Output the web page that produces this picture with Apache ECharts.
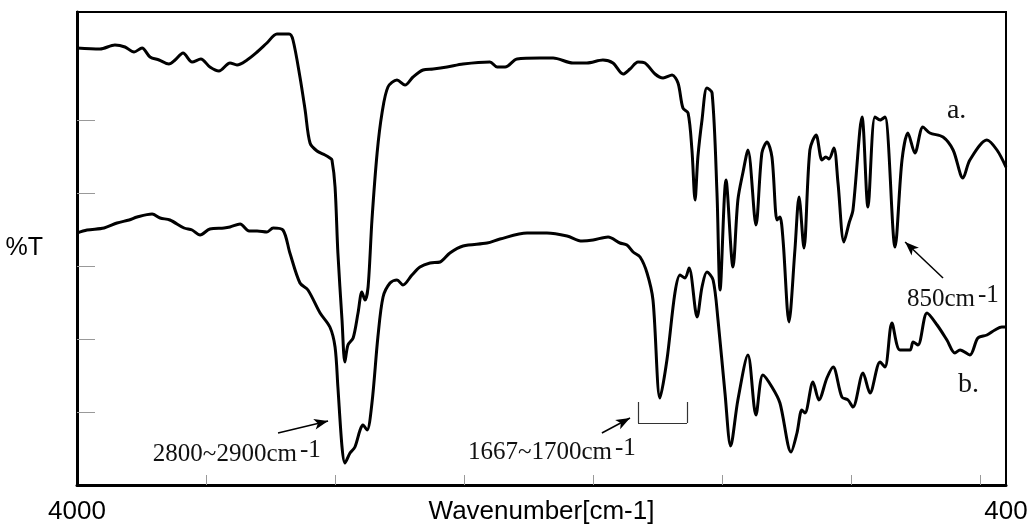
<!DOCTYPE html>
<html><head><meta charset="utf-8">
<script src="https://cdn.jsdelivr.net/npm/echarts@6/dist/echarts.min.js"></script>
<style>html,body{margin:0;padding:0;background:#fff}#c{width:1036px;height:524px}</style>
</head><body><div id="c"></div>
<script>
// Spectrum a (upper trace): wavenumber [cm-1] and %T (arbitrary offset scale)
const wnA = [4000,3911,3853,3814,3779,3748,3717,3682,3644,3620,
  3589,3554,3520,3485,3450,3407,3380,3341,3302,3264,
  3225,3178,3163,3136,3116,3097,3070,3039,3020,3012,
  3000,2989,2973,2962,2950,2930,2911,2896,2884,2872,
  2857,2837,2818,2795,2760,2729,2698,2659,2620,2566,
  2504,2400,2372,2341,2295,2206,2155,2078,2024,1962,
  1923,1884,1857,1826,1799,1760,1729,1694,1671,1652,
  1632,1617,1605,1594,1578,1559,1539,1520,1508,1485,
  1458,1439,1419,1400,1369,1346,1326,1307,1287,1276,
  1264,1241,1218,1202,1183,1160,1136,1113,1098,1086,
  1067,1051,1028,1008,993,958,935,908,888,869,
  830,803,780,753,722,695,644,605,567,540,
  474,435,400];
const tA = [87.4,87.2,88,87.6,86.6,87.4,85.6,85,84.2,85,
  86.4,84.6,85.2,83.6,82.8,84.4,84,85,86.6,88.4,
  90.2,90.2,89,81.6,75,68.4,66.8,66,65.4,65,
  59.6,46.4,33,24.6,28,29.4,34.4,38.6,37,39.6,
  53,66.4,74.4,79.6,81,80,81.6,83,83.2,83.6,
  84.2,84.6,83.6,83.6,85.2,85.4,85.4,84.4,84.4,85,
  84.4,82.2,83.2,84.6,84.4,82.2,81.4,82,80.4,75.4,
  74.4,67,57,65.6,73,79.4,78.4,58.4,39,61,
  43.6,57,62.6,67,52,66.4,68.6,65.6,53,53.6,
  49,32.6,47,57.6,47.4,67,70,65,65.6,65.2,
  67.4,60.4,48.6,52.4,55,73.6,55.6,73.6,73,73.6,
  47.6,65,70.4,66.4,71.6,70.4,69.6,67,61.4,65,
  69,67,63.6];
// Spectrum b (lower trace)
const wnB = [4000,3961,3895,3845,3798,3767,3709,3678,3640,3585,
  3554,3523,3485,3430,3407,3368,3333,3302,3264,3240,
  3202,3175,3136,3105,3058,3020,3000,2989,2973,2962,
  2942,2923,2903,2892,2876,2857,2834,2814,2787,2760,
  2737,2702,2671,2632,2593,2555,2504,2411,2361,2256,
  2179,2101,2043,2000,1942,1896,1869,1845,1818,1791,
  1768,1741,1714,1683,1663,1644,1628,1597,1578,1559,
  1535,1516,1489,1467,1439,1400,1369,1342,1307,1276,
  1233,1210,1191,1179,1148,1125,1094,1070,1036,1012,
  993,954,927,888,869,842,811,772,760,741,
  706,667,629,598,578,540,509,474,443,416,400];
const tB = [50.4,51,51.4,52.4,53,53.6,54.2,53.4,53,51.4,
  51,50,51.2,51.4,51.6,52.2,50.8,50.8,50.6,51.4,
  51,46.4,40.4,39,34.4,31.6,27.6,19.6,7.6,4.4,
  6.4,7.6,11,12,11,16.4,29.6,37.6,40.4,41,
  40,42,43.6,44.4,44.6,46.4,47.8,48.4,49.2,50.4,
  50.4,49.8,48.8,49,49.6,48.4,48,46.6,45.6,42.4,
  37,17.4,25,38.4,42,41.4,43.4,33.6,39.6,42.6,
  41,33,18.4,7.8,17,26,14,22,19.6,16.4,
  6.6,10.4,15,14.4,20.6,17,21.4,23.6,17.6,17,
  15.6,22.4,18.4,24.6,23.6,32.4,27,27,28.6,28,
  34.4,32,29,26.4,27,26,29.4,30,31,31.6,31.6];
const xTickValues = [3500,3000,2500,2000,1500,1000,500];
const xLabelValues = [4000,400];
const yTickValues = [14.6,29.2,43.8,58.4,73];

// annotation anchors (data coordinates)
const notes = [
  {main:'2800~2900cm', wn:3706, t:6.2, size:25},
  {main:'1667~1700cm', wn:2485, t:6.5, size:25},
  {main:'850cm', wn:784, t:37.2, size:25},
  {plain:'a.', wn:629, t:74.8, size:28},
  {plain:'b.', wn:586, t:20.0, size:28}
];
const arrows = [
  [[3221,10.4],[3027,12.8]],
  [[1966,10.4],[1857,13.4]],
  [[644,41.4],[791,48.6]]
];
const bracket = [
  [[1826,16.6],[1826,12.4]],
  [[1826,12.4],[1636,12.4]],
  [[1636,12.4],[1636,16.6]]
];

const dataA = wnA.map((w,i)=>[w,tA[i]]);
const dataB = wnB.map((w,i)=>[w,tB[i]]);
const serif = 'Liberation Serif';
const sans = 'Liberation Sans';

const chart = echarts.init(document.getElementById('c'));
const option = {
  animation:false,
  backgroundColor:'#fff',
  grid:{left:77,right:30,top:12,bottom:39,show:true,borderColor:'#000',borderWidth:2,
        containLabel:false,outerBoundsMode:'none'},
  xAxis:{type:'value',min:400,max:4000,inverse:true,
    axisLine:{show:true,lineStyle:{color:'#000',width:3}},
    axisTick:{show:true,inside:true,length:10,customValues:xTickValues,lineStyle:{color:'#999',width:1}},
    axisLabel:{show:true,customValues:xLabelValues,fontSize:26,fontFamily:sans,color:'#000',margin:14,
      formatter:v=>String(v)},
    splitLine:{show:false},
    name:'Wavenumber[cm-1]',nameLocation:'middle',nameGap:14,nameMoveOverlap:false,
    nameTextStyle:{fontSize:26,fontFamily:sans,color:'#000',verticalAlign:'top'}
  },
  yAxis:{type:'value',min:0,max:94.6,
    axisLine:{show:true,lineStyle:{color:'#000',width:3}},
    axisTick:{show:true,inside:true,length:18,customValues:yTickValues,lineStyle:{color:'#999',width:1}},
    axisLabel:{show:false},
    splitLine:{show:false},
    name:'%T',nameLocation:'middle',nameRotate:0,nameGap:34,nameMoveOverlap:false,
    nameTextStyle:{fontSize:25,fontFamily:sans,color:'#000'}
  },
  series:[
    {type:'line',data:dataA,showSymbol:false,smooth:0.3,lineStyle:{color:'#000',width:3},silent:true,
     markLine:{silent:true,symbol:['none','arrow'],symbolSize:[8,14],label:{show:false},
       lineStyle:{color:'#000',width:1.5,type:'solid'},
       data:arrows.map(a=>[{coord:a[0]},{coord:a[1]}])}},
    {type:'line',data:dataB,showSymbol:false,smooth:0.3,lineStyle:{color:'#000',width:3},silent:true,
     markLine:{silent:true,symbol:['none','none'],label:{show:false},
       lineStyle:{color:'#333',width:1.2,type:'solid'},
       data:bracket.map(a=>[{coord:a[0]},{coord:a[1]}])}}
  ]
};
chart.setOption(option);

const graphic = notes.map(n=>{
  const p = chart.convertToPixel({gridIndex:0},[n.wn,n.t]);
  const style = n.plain
    ? {text:n.plain,font:n.size+'px '+serif,fill:'#111',align:'left',verticalAlign:'middle'}
    : {text:'{m|'+n.main+'}{s|-1}',align:'left',verticalAlign:'middle',
       rich:{m:{fontSize:n.size,fontFamily:serif,fill:'#111'},
             s:{fontSize:n.size,fontFamily:serif,fill:'#111',padding:[0,0,8,3]}}};
  return {type:'text',x:p[0],y:p[1],style:style,silent:true};
});
chart.setOption({graphic:graphic});
</script>
</body></html>
